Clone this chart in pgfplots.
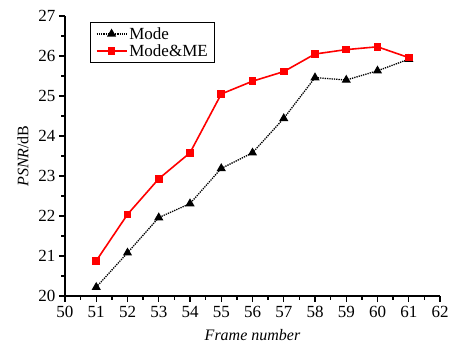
\documentclass[border=0pt]{standalone}
\usepackage{pgfplots}
\pgfplotsset{compat=1.18}
\usepackage{fontspec}
\setmainfont{Liberation Serif}
\usetikzlibrary{calc}
\begin{document}
\begin{tikzpicture}
\begin{axis}[
  name=ax,
  at={(0,0)}, anchor=south west,
  scale only axis,
  width=375pt, height=280pt,
  xmin=50, xmax=62, ymin=20, ymax=27,
  axis x line*=bottom, axis y line*=left,
  axis line style={line width=1.6pt, -},
  xtick={50,...,62}, ytick={20,...,27},
  minor x tick num=1, minor y tick num=1,
  tick align=outside,
  major tick length=6pt, minor tick length=3.5pt,
  tick style={line width=1.3pt, black},
  /pgf/number format/assume math mode=true,
  ticklabel style={font=\fontsize{17}{18}\selectfont},
  xticklabel style={yshift=-1pt},
  xlabel={\itshape Frame number},
  ylabel={\textit{PSNR}/dB},
  label style={font=\fontsize{16}{18}\selectfont},
  xlabel style={yshift=-5pt},
  ylabel style={yshift=3pt},
  legend style={at={(0.067,0.98)}, anchor=north west, draw=black, line width=1.3pt,
    font=\fontsize{17}{18}\selectfont, row sep=0pt, inner xsep=5pt, inner ysep=3pt},
  legend image code/.code={\draw[mark repeat=2,mark phase=2] plot coordinates {(0pt,0pt)(15pt,0pt)(30pt,0pt)};},
  legend cell align=left,
]
\addplot[black, densely dotted, line width=1.3pt, mark=triangle*, mark size=4pt, mark options={solid}]
coordinates {(51,20.22)(52,21.08)(53,21.96)(54,22.31)(55,23.19)(56,23.58)(57,24.44)(58,25.46)(59,25.40)(60,25.63)(61,25.92)};
\addlegendentry{Mode}
\addplot[red, line width=1.6pt, mark=square*, mark size=3pt]
coordinates {(51,20.88)(52,22.04)(53,22.93)(54,23.58)(55,25.05)(56,25.37)(57,25.61)(58,26.05)(59,26.16)(60,26.23)(61,25.96)};
\addlegendentry{Mode\&ME}
\end{axis}
\pgfresetboundingbox
\useasboundingbox ($(ax.south west)+(-65pt,-49pt)$) rectangle ($(ax.north east)+(14pt,16pt)$);
\end{tikzpicture}
\end{document}
